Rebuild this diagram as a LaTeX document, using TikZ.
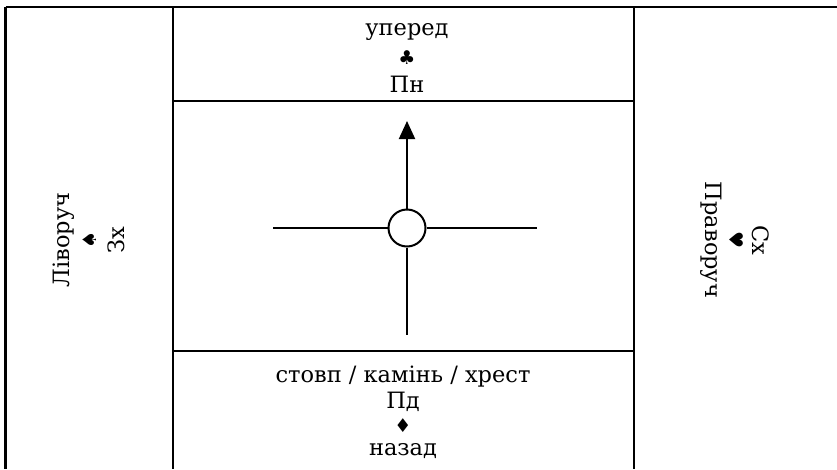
\documentclass[tikz,border=0pt]{standalone}
\usepackage{fontspec}
\setmainfont{DejaVu Serif}
\newfontfamily\suitfont{DejaVu Sans}
\usetikzlibrary{arrows.meta}

\tikzset{
  frameline/.style={line width=2.2pt},
  crossline/.style={line width=2pt},
  label/.style={font=\fontsize{22.5}{26}\selectfont, inner sep=0pt},
  suit/.style={font=\suitfont\fontsize{19}{22}\selectfont, inner sep=0pt}
}

\begin{document}
\begin{tikzpicture}[x=1pt,y=-1pt]

\useasboundingbox (0,0) rectangle (837,469);

%------------------------------------------------
% Frame
%------------------------------------------------

\draw[frameline] (5.5,7) -- (837,7);
\draw[frameline] (5.5,7) -- (5.5,469);
\draw[frameline] (173,7) -- (173,469);
\draw[frameline] (634,7) -- (634,469);
\draw[frameline] (173,101) -- (634,101);
\draw[frameline] (173,351) -- (634,351);

%------------------------------------------------
% Top
%------------------------------------------------

\node[label] (fwd)   at (407,32) {уперед};
\node[suit]  (club)  at (407,58) {♣};
\node[label] (north) at (407,84) {Пн};

%------------------------------------------------
% Bottom
%------------------------------------------------

\node[label] (marks) at (403,377) {стовп / камінь / хрест};
\node[label] (south) at (403,402) {Пд};
\node[suit]  (diam)  at (403,426) {♦};
\node[label] (back)  at (403,451) {назад};

%------------------------------------------------
% Left
%------------------------------------------------

\node[label, rotate=90] (left) at (64,240) {Ліворуч};
\node[suit,  rotate=90] (spade) at (90,240) {♠};
\node[label, rotate=90] (west) at (116,240) {Зх};

%------------------------------------------------
% Right
%------------------------------------------------

\node[label, rotate=-90] (right) at (711,240) {Праворуч};
\node[suit,  rotate=-90] (heart) at (736,240) {♥};
\node[label, rotate=-90] (east)  at (761,240) {Сх};

%------------------------------------------------
% Cross
%------------------------------------------------

\node[draw, circle, crossline, minimum size=37pt, inner sep=0pt] (hub) at (407,228) {};
\coordinate (wend) at (273,228);
\coordinate (eend) at (537,228);
\coordinate (send) at (407,335);
\coordinate (nend) at (407,121);

\draw[crossline] (hub.west) -- (wend);
\draw[crossline] (hub.east) -- (eend);
\draw[crossline] (hub.south) -- (send);
\draw[crossline, -{Triangle[length=18pt,width=16pt]}] (hub.north) -- (nend);

\end{tikzpicture}
\end{document}
